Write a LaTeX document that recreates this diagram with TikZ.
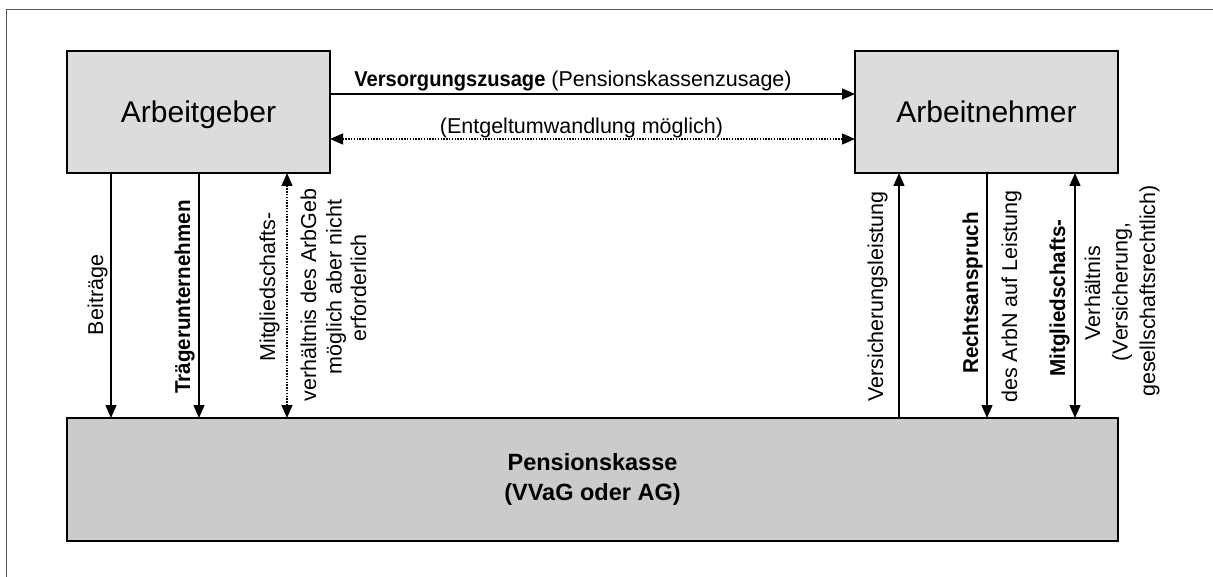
\documentclass[tikz,border=0pt]{standalone}
\usepackage{fontspec}
\setmainfont{Liberation Sans}
\usetikzlibrary{arrows.meta}
\definecolor{boxtop}{HTML}{DCDCDC}
\definecolor{boxbot}{HTML}{CBCBCB}
\definecolor{framecol}{HTML}{555555}
\newcommand{\nb}[2]{\scalebox{#1}[1]{\bfseries #2}}
\tikzset{
  bigbox/.style={draw=black, line width=2pt, inner sep=0pt, outer sep=0pt},
  titlefont/.style={font=\fontsize{30}{34}\selectfont},
  lbl/.style={font=\fontsize{21.5}{25.5}\selectfont, inner sep=0pt, anchor=base},
  vlbl/.style={lbl, rotate=90},
  arr/.style={line width=1.5pt, -{Triangle[width=11pt,length=13pt]}},
  rarr/.style={line width=1.5pt, {Triangle[width=11pt,length=13pt]}-},
  darr/.style={line width=1.5pt, {Triangle[width=11pt,length=13pt]}-{Triangle[width=11pt,length=13pt]}},
  dotarr/.style={darr, line width=1.3pt, dash pattern=on 1.3pt off 1.5pt}
}
\begin{document}
\begin{tikzpicture}[x=1pt,y=-1pt]
\useasboundingbox (0,0) rectangle (1213,577);
\draw[framecol, line width=1pt] (6,577) -- (6,10) -- (1213,10);

% boxes
\node[bigbox, fill=boxtop, minimum width=263pt, minimum height=122pt,
      titlefont, text height=21.6pt, text depth=0pt] (ag) at (198.5,112) {Arbeitgeber};
\node[bigbox, fill=boxtop, minimum width=263pt, minimum height=122pt,
      titlefont, text height=21.6pt, text depth=0pt] (an) at (986.5,112) {Arbeitnehmer};
\node[bigbox, fill=boxbot, minimum width=1051pt, minimum height=123pt,
      font=\bfseries\fontsize{23.5}{30}\selectfont, align=center] (pk) at (592.5,479.5)
      {Pensionskasse\\(VVaG oder AG)};

% horizontal connectors
\draw[arr] ([yshift=18pt]ag.east) -- ([yshift=18pt]an.west);
\draw[dotarr] ([yshift=-27pt]ag.east) -- ([yshift=-27pt]an.west);
\node[lbl] (vz) at (573,87) {\nb{0.935}{Versorgungszusage} (Pensionskassenzusage)};
\node[lbl] (eu) at (581.5,134) {(Entgeltumwandlung möglich)};

% vertical connector anchors
\coordinate (a1) at ([xshift=44pt]ag.south west);
\coordinate (a2) at ([xshift=132pt]ag.south west);
\coordinate (a3) at ([xshift=220pt]ag.south west);
\coordinate (b1) at ([xshift=44pt]an.south west);
\coordinate (b2) at ([xshift=132pt]an.south west);
\coordinate (b3) at ([xshift=220pt]an.south west);

\draw[arr] (a1) -- (a1 |- pk.north);
\draw[arr] (a2) -- (a2 |- pk.north);
\draw[dotarr] (a3) -- (a3 |- pk.north);
\draw[rarr] (b1) -- (b1 |- pk.north);
\draw[arr] (b2) -- (b2 |- pk.north);
\draw[darr] (b3) -- (b3 |- pk.north);

% vertical labels (left)
\node[vlbl] (l1) at (103,295) {Beiträge};
\node[vlbl] (l2) at (190,297) {\nb{0.957}{Trägerunternehmen}};
\node[vlbl] (l3) at (275,287) {Mitgliedschafts-};
\node[vlbl] (l4) at (316,295) {verhältnis des ArbGeb};
\node[vlbl] (l5) at (341.5,287) {möglich aber nicht};
\node[vlbl] (l6) at (366,288) {erforderlich};

% vertical labels (right)
\node[vlbl] (r1) at (883,296.5) {Versicherungsleistung};
\node[vlbl] (r2) at (978,293) {\nb{0.96}{Rechtsanspruch}};
\node[vlbl] (r3) at (1017,296.5) {des ArbN auf Leistung};
\node[vlbl] (r4) at (1065,298) {\nb{0.96}{Mitgliedschafts-}};
\node[vlbl] (r5) at (1100,293) {Verhältnis};
\node[vlbl] (r6) at (1127.5,292) {(Versicherung,};
\node[vlbl] (r7) at (1155,291) {gesellschaftsrechtlich)};
\end{tikzpicture}
\end{document}
